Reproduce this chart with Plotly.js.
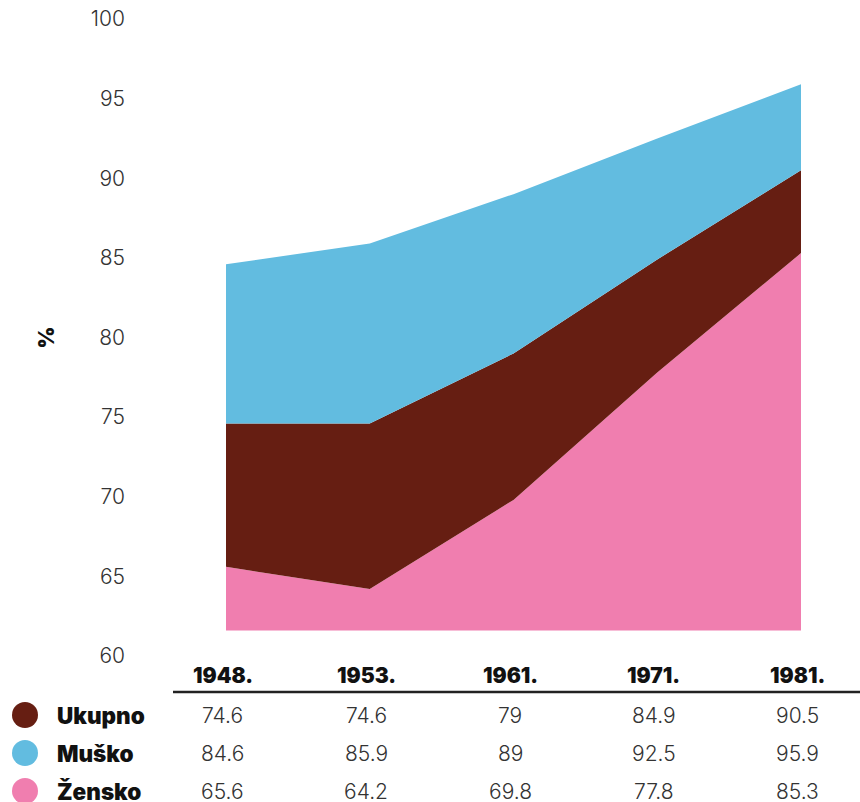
<!DOCTYPE html>
<html>
<head>
<meta charset="utf-8">
<script src="https://cdn.plot.ly/plotly-3.0.1.min.js"></script>
<style>
  html, body { margin: 0; padding: 0; background: #fff; }
  #chart { width: 860px; height: 802px; }
</style>
</head>
<body>
<div id="chart"></div>
<script>
// Census years and shares (%) per group
const years = ['1948.', '1953.', '1961.', '1971.', '1981.'];
const ukupno = [74.6, 74.6, 79, 84.9, 90.5];
const musko = [84.6, 85.9, 89, 92.5, 95.9];
const zensko = [65.6, 64.2, 69.8, 77.8, 85.3];
const seriesNames = ['Ukupno', 'Muško', 'Žensko'];
const seriesValues = [ukupno, musko, zensko];

// Styling
const COLORS = { Ukupno: '#661e12', 'Muško': '#62bce0', 'Žensko': '#f07eaf' };
const FLOOR = 61.6;            // lower edge of the filled bands
const W = 860, H = 802;
const M = { l: 131, r: 59, t: 19, b: 146 };
const PW = W - M.l - M.r, PH = H - M.t - M.b;
const TEXT = '#333333';
const FONT = 'Inter, Lato, sans-serif';
const BOLD = { family: FONT, size: 21, color: '#111', weight: 900 };
const LEGEND = { family: FONT, size: 22.5, color: '#111', weight: 900 };
const LIGHT = { family: FONT, size: 21, color: TEXT, weight: 300 };

// pixel -> paper helpers for the table below the plot
const px = x => (x - M.l) / PW;
const py = y => (H - M.b - y) / PH;

const idx = years.map((_, i) => i);

const base = {
  x: idx, y: idx.map(() => FLOOR), mode: 'lines',
  line: { width: 0 }, hoverinfo: 'skip', showlegend: false
};
const band = (vals, name) => ({
  x: idx, y: vals, name: name, mode: 'lines', fill: 'tonexty',
  fillcolor: COLORS[name], line: { width: 0, color: COLORS[name] },
  showlegend: false
});

const traces = [
  base,
  band(zensko, 'Žensko'),
  band(ukupno, 'Ukupno'),
  band(musko, 'Muško')
];

const annotations = [];
const shapes = [];
const colPx = 143.75;
const colX = i => (226 - 3.5 + i * colPx);

// column headers
years.forEach((y, i) => {
  annotations.push({
    xref: 'paper', yref: 'paper', x: px(colX(i)), y: py(675),
    text: y, showarrow: false, xanchor: 'center', yanchor: 'middle',
    font: BOLD
  });
});

// header rule
shapes.push({
  type: 'line', xref: 'paper', yref: 'paper',
  x0: px(173), x1: px(860), y0: py(692), y1: py(692),
  line: { color: '#222', width: 2.5 }
});

// rows
const rowY = [715, 753, 791];
seriesNames.forEach((name, r) => {
  const cy = rowY[r];
  shapes.push({
    type: 'circle', xref: 'paper', yref: 'paper',
    x0: px(12), x1: px(38), y0: py(cy + 13), y1: py(cy - 13),
    fillcolor: COLORS[name], line: { width: 0 }
  });
  annotations.push({
    xref: 'paper', yref: 'paper', x: px(55), y: py(cy),
    text: name, showarrow: false, xanchor: 'left', yanchor: 'middle',
    font: LEGEND
  });
  seriesValues[r].forEach((v, i) => {
    annotations.push({
      xref: 'paper', yref: 'paper', x: px(colX(i)), y: py(cy),
      text: String(v), showarrow: false, xanchor: 'center', yanchor: 'middle',
      font: LIGHT
    });
  });
});

const layout = {
  width: W, height: H,
  margin: M,
  paper_bgcolor: '#fff', plot_bgcolor: '#fff',
  showlegend: false,
  xaxis: {
    range: [-(226 - M.l) / colPx, 4],
    showgrid: false, zeroline: false, showline: false,
    showticklabels: false, ticks: ''
  },
  yaxis: {
    range: [60, 100], tickvals: [60, 65, 70, 75, 80, 85, 90, 95, 100],
    showgrid: false, zeroline: false, showline: false, ticks: '',
    ticklabelstandoff: 5,
    tickfont: LIGHT,
    title: { text: '%', standoff: 30, font: BOLD }
  },
  annotations: annotations,
  shapes: shapes
};

Plotly.newPlot('chart', traces, layout, { staticPlot: true, displayModeBar: false });
</script>
</body>
</html>
